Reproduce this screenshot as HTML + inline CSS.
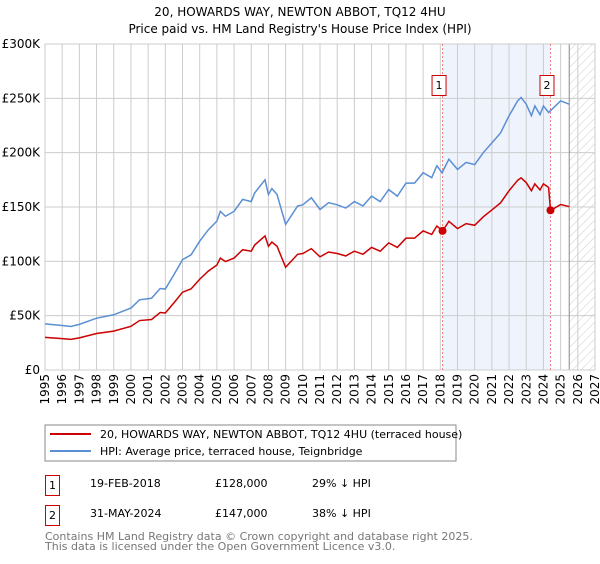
<!DOCTYPE html>
<html><head><meta charset="utf-8"><style>
body{margin:0;background:#fff;font-family:"DejaVu Sans","Liberation Sans",sans-serif;}
svg text{font-family:"DejaVu Sans","Liberation Sans",sans-serif;}
</style></head><body>
<svg id="chart" width="600" height="560" viewBox="0 0 600 560">
<defs><pattern id="hatch" width="6" height="6" patternUnits="userSpaceOnUse" patternTransform="rotate(45)"><line x1="0" y1="0" x2="0" y2="6" stroke="#ccc" stroke-width="1"/></pattern></defs>
<text x="300" y="16" text-anchor="middle" font-size="12">20, HOWARDS WAY, NEWTON ABBOT, TQ12 4HU</text>
<text x="300" y="33" text-anchor="middle" font-size="12">Price paid vs. HM Land Registry's House Price Index (HPI)</text>
<g id="grid"></g><g id="marks"></g><g id="axes"></g>
<rect x="45" y="425" width="411" height="36" fill="#fff" stroke="#888"/>
<line x1="50" y1="434" x2="91" y2="434" stroke="#cc0000" stroke-width="2"/>
<text x="100" y="438" font-size="11">20, HOWARDS WAY, NEWTON ABBOT, TQ12 4HU (terraced house)</text>
<line x1="50" y1="451" x2="91" y2="451" stroke="#5b8fd4" stroke-width="2"/>
<text x="100" y="455" font-size="11">HPI: Average price, terraced house, Teignbridge</text>
<g>
<rect x="45.5" y="475.5" width="14" height="20" fill="#fff" stroke="#cc0000"/>
<text x="52.5" y="489" font-size="11" text-anchor="middle">1</text>
<text x="90" y="487" font-size="11">19-FEB-2018</text>
<text x="215" y="487" font-size="11">£128,000</text>
<text x="312" y="487" font-size="11">29% ↓ HPI</text></g>
<g>
<rect x="45.5" y="505.5" width="14" height="20" fill="#fff" stroke="#cc0000"/>
<text x="52.5" y="519" font-size="11" text-anchor="middle">2</text>
<text x="90" y="517" font-size="11">31-MAY-2024</text>
<text x="215" y="517" font-size="11">£147,000</text>
<text x="312" y="517" font-size="11">38% ↓ HPI</text></g>
<text x="45" y="540" font-size="11" fill="#777">Contains HM Land Registry data © Crown copyright and database right 2025.</text>
<text x="45" y="550" font-size="11" fill="#777">This data is licensed under the Open Government Licence v3.0.</text>
</svg>
<script>
const yearTicks=[1995,1996,1997,1998,1999,2000,2001,2002,2003,2004,2005,2006,2007,2008,2009,2010,2011,2012,2013,2014,2015,2016,2017,2018,2019,2020,2021,2022,2023,2024,2025,2026,2027];
const valueTicks=[0,50000,100000,150000,200000,250000,300000];
const valueTickLabels=["£0","£50K","£100K","£150K","£200K","£250K","£300K"];
const hpiDates=[1995,1996,1996.5,1997,1998,1999,2000,2000.5,2001.2,2001.7,2002,2002.5,2003,2003.5,2004,2004.5,2005,2005.2,2005.5,2006,2006.5,2007,2007.2,2007.8,2008,2008.2,2008.5,2009,2009.7,2010,2010.5,2011,2011.5,2012,2012.5,2013,2013.5,2014,2014.5,2015,2015.5,2016,2016.5,2017,2017.5,2017.8,2018.1,2018.5,2019,2019.5,2020,2020.5,2021,2021.5,2022,2022.5,2022.7,2023,2023.3,2023.5,2023.8,2024,2024.3,2024.6,2025,2025.5];
const hpiValues=[42.5,41,40,42,47.7,50.8,57,64.6,66,75,74.5,87.7,101.5,106,118.5,129,137,146,141.5,146,157,155,163,175,161.5,167,161.5,134,151,152,158.5,147.7,154,152,149,155,151,160,155,166,160,172,172,181.5,177,188,181.5,194,184.6,191,189,200,209,218,234,247.7,250.8,244.6,234,243,235,243,237,241.5,247.7,244.6];
const propDates=[1995,1996,1996.5,1997,1998,1999,2000,2000.5,2001.2,2001.7,2002,2002.5,2003,2003.5,2004,2004.5,2005,2005.2,2005.5,2006,2006.5,2007,2007.2,2007.8,2008,2008.2,2008.5,2009,2009.7,2010,2010.5,2011,2011.5,2012,2012.5,2013,2013.5,2014,2014.5,2015,2015.5,2016,2016.5,2017,2017.5,2017.8,2018.13,2018.5,2019,2019.5,2020,2020.5,2021,2021.5,2022,2022.5,2022.7,2023,2023.3,2023.5,2023.8,2024,2024.3,2024.41,2024.6,2025,2025.5];
const propValues=[30,28.9,28.2,29.6,33.6,35.8,40.2,45.5,46.5,52.9,52.5,61.8,71.6,74.7,83.5,91,96.6,103,99.8,103,110.7,109.3,115,123.4,113.9,117.7,113.9,94.5,106.5,107.2,111.7,104.1,108.6,107.2,105,109.3,106.5,112.8,109.3,117,112.8,121.3,121.3,128,124.8,132.5,128,136.8,130.1,134.7,133.2,141,147.3,153.7,165,174.6,176.8,172.4,165,171.3,165.7,171.3,168,147,148.5,152.3,150.4];
const saleDates=[2018.13,2024.41];
const saleValues=[128000,147000];
const saleLabels=["1","2"];
const dataEnd=2025.5;

const X0=45,X1=595,Y0=370,Y1=44;
const x=d=>X0+(d-1995)/(2027-1995)*(X1-X0);
const y=v=>Y0-v/300000*(Y0-Y1);
const NS="http://www.w3.org/2000/svg";
function mk(tag,attrs,parent,txt){const e=document.createElementNS(NS,tag);for(const k in attrs)e.setAttribute(k,attrs[k]);if(txt!==undefined)e.textContent=txt;parent.appendChild(e);return e;}
const grid=document.getElementById('grid'),marks=document.getElementById('marks'),axes=document.getElementById('axes');
// shaded region between sales
let sh=mk('rect',{x:x(saleDates[0]),y:Y1,width:x(saleDates[1])-x(saleDates[0]),height:Y0-Y1,fill:'#eef3fc'},grid);


let ht=mk('rect',{x:x(dataEnd),y:Y1,width:X1-x(dataEnd),height:Y0-Y1,fill:'url(#hatch)'},grid);


yearTicks.forEach(t=>{
 let l=mk('line',{x1:x(t),x2:x(t),y1:Y1,y2:Y0,stroke:'#ccc','stroke-width':1},grid);
 
 
 let tx=mk('text',{x:0,y:0,'font-size':12,'text-anchor':'end',transform:`translate(${x(t)+4},${Y0+4}) rotate(-90)`},axes,String(t));
 
 
});
valueTicks.forEach((v,i)=>{
 let l=mk('line',{x1:X0,x2:X1,y1:y(v),y2:y(v),stroke:'#ccc','stroke-width':1},grid);
 
 
 let tx=mk('text',{x:X0-5,y:y(v)+4,'font-size':12,'text-anchor':'end'},axes,valueTickLabels[i]);
 
 
});
let de=mk('line',{x1:x(dataEnd),x2:x(dataEnd),y1:Y1,y2:Y0,stroke:'#888','stroke-width':1},grid);


let fr=mk('rect',{x:X0,y:Y1,width:X1-X0,height:Y0-Y1,fill:'none',stroke:'#ccc'},grid);


saleDates.forEach((d,i)=>{
 let l=mk('line',{x1:x(d),x2:x(d),y1:Y1,y2:Y0,stroke:'#f08080','stroke-width':1,'stroke-dasharray':'2,2'},marks);
 
 
});
let hp=mk('polyline',{points:hpiDates.map((d,i)=>x(d)+','+y(hpiValues[i]*1000)).join(' '),fill:'none',stroke:'#5b8fd4','stroke-width':1.5},marks);


let pp=mk('polyline',{points:propDates.map((d,i)=>x(d)+','+y(propValues[i]*1000)).join(' '),fill:'none',stroke:'#cc0000','stroke-width':1.5},marks);


saleDates.forEach((d,i)=>{
 let c=mk('circle',{cx:x(d),cy:y(saleValues[i]),r:4,fill:'#cc0000'},marks);
 
 
 let g=mk('g',{},marks);
 
 
 mk('rect',{x:x(d)-10.5,y:75.5,width:14,height:20,fill:'#fff',stroke:'#cc0000'},g);
 mk('text',{x:x(d)-3.5,y:89,'font-size':11,'text-anchor':'middle'},g,saleLabels[i]);
});
</script>
</body></html>
